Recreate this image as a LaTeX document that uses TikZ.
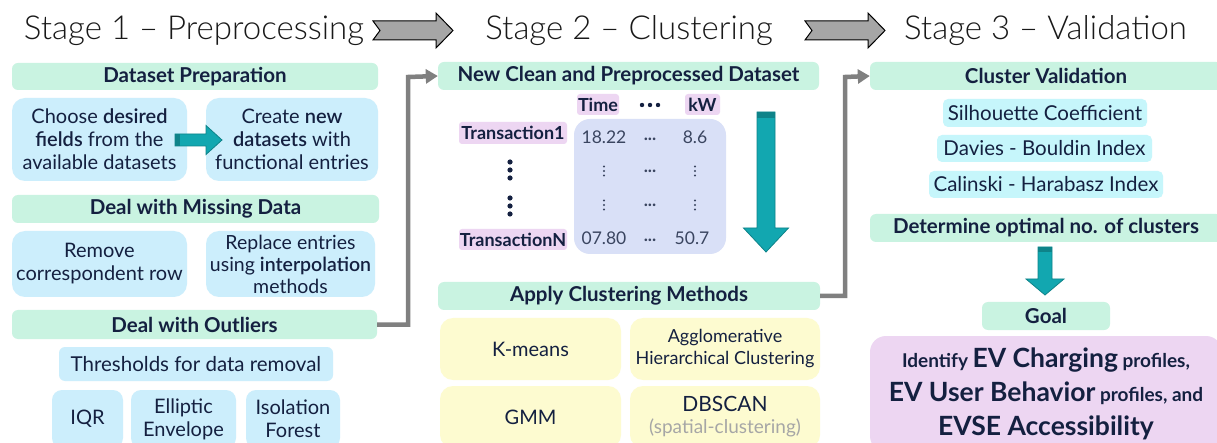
\documentclass[tikz,border=0pt]{standalone}
\usepackage{fontspec}
\setmainfont{Lato}
\newfontfamily\lightfont{Lato Light}
\newfontfamily\semifont{Lato Semibold}
\newcommand{\semi}[1]{{\semifont #1}}
\usetikzlibrary{arrows.meta}
\definecolor{hgreen}{HTML}{C9F3E1}
\definecolor{lblue}{HTML}{CCEEFC}
\definecolor{lcyan}{HTML}{C6F6FB}
\definecolor{lav}{HTML}{D9E0F7}
\definecolor{lpink}{HTML}{EDD6F2}
\definecolor{lyellow}{HTML}{FDFBD0}
\definecolor{navy}{HTML}{142040}
\definecolor{valtxt}{HTML}{3A4560}
\definecolor{teal}{HTML}{12A7B0}
\definecolor{tealdk}{HTML}{0E8389}
\definecolor{conn}{HTML}{808080}
\definecolor{stagegray}{HTML}{A6A6A6}
\tikzset{
  sz/.style 2 args={minimum width=#1, minimum height=#2},
  base/.style={rounded corners=6pt, inner sep=0pt, align=center, text=navy,
    font=\fontsize{20}{23}\selectfont},
  hdr/.style={base, fill=hgreen, font=\bfseries\fontsize{20.5}{23}\selectfont},
  bluebox/.style={base, fill=lblue, rounded corners=13pt},
  cyanbox/.style={base, fill=lcyan, rounded corners=5pt, font=\fontsize{20.5}{23}\selectfont},
  yelbox/.style={base, fill=lyellow, rounded corners=13pt},
  pinklbl/.style={base, fill=lpink, rounded corners=3pt, font=\bfseries\fontsize{18}{20}\selectfont},
  val/.style={inner sep=0pt, text=valtxt, font=\fontsize{17.5}{20}\selectfont},
  title/.style={inner sep=0pt, anchor=base, text=black!90, font=\lightfont\fontsize{33}{38}\selectfont},
  connector/.style={draw=conn, line width=4.5pt, -{Triangle[length=12pt,width=14pt]}},
  tealshape/.style={fill=teal, draw=tealdk, line width=0.8pt},
  stagearr/.pic={\draw[fill=stagegray, draw=black, line width=1pt, line join=miter]
     (0,-9.5) -- (63,-9.5) -- (63,-17.5) -- (80,0) -- (63,17.5) -- (63,9.5) -- (0,9.5) -- (7,0) -- cycle;},
  bigdown/.pic={\draw[tealshape] (-9,0) -- (9,0) -- (9,116) -- (22.5,116) -- (0,140) -- (-22.5,116) -- (-9,116) -- cycle;
     \fill[tealdk] (-9,0) rectangle (9,6);},
  smalldown/.pic={\draw[tealshape] (-7,0) -- (7,0) -- (7,32) -- (19,32) -- (0,48) -- (-19,32) -- (-7,32) -- cycle;
     \fill[tealdk] (-7,0) rectangle (7,5);},
  rightarr/.pic={\draw[tealshape] (0,-6) -- (31,-6) -- (31,-14.5) -- (47,0) -- (31,14.5) -- (31,6) -- (0,6) -- cycle;
     \fill[tealdk] (0,-6) rectangle (5,6);},
  vdotpic/.pic={\foreach \d in {-4.5,0,4.5} \fill[valtxt] (0,\d) circle (1.1);}
}
\begin{document}
\begin{tikzpicture}[x=1pt,y=-1pt]
\useasboundingbox (0,0) rectangle (1217,443);
\clip (0,0) rectangle (1217,443);
\fill[white] (0,0) rectangle (1217,443);

% titles
\node[title] (t1) at (194,40) {Stage 1 – Preprocessing};
\node[title] (t2) at (629,40) {Stage 2 – Clustering};
\node[title] (t3) at (1045.5,40) {Stage 3 – Validation};
\pic at (373,30.5) {stagearr};
\pic at (805,30.5) {stagearr};

% Stage 1
\node[hdr, sz={366}{27}] (hA) at (195,76.5) {Dataset Preparation};
\node[bluebox, sz={175}{83}] (a1) at (99.5,139.5) {Choose \semi{desired}\\\semi{fields} from the\\available datasets};
\node[bluebox, sz={172}{83}] (a2) at (292,139.5) {Create \semi{new}\\\semi{datasets} with\\functional entries};
\pic at (175,140) {rightarr};
\node[hdr, sz={367}{28}] (hB) at (195.5,209) {Deal with Missing Data};
\node[bluebox, sz={175}{66}] (b1) at (99.5,264) {Remove\\correspondent row};
\node[bluebox, sz={169}{66}, font=\fontsize{19.5}{22}\selectfont] (b2) at (290.5,264) {Replace entries\\using \semi{interpolation}\\methods};
\node[hdr, sz={365}{29}] (hC) at (194.5,324.5) {Deal with Outliers};
\node[bluebox, rounded corners=6pt, sz={274}{34}, font=\fontsize{20.5}{23}\selectfont] (thr) at (196,364) {Thresholds for data removal};
\node[bluebox, rounded corners=10pt, sz={71}{58}] (iqr) at (87.5,419) {IQR};
\node[bluebox, rounded corners=10pt, sz={105}{58}] (ell) at (183.5,419) {Elliptic\\Envelope};
\node[bluebox, rounded corners=10pt, sz={94}{58}] (iso) at (293,419) {Isolation\\Forest};

% Stage 2
\node[hdr, sz={381}{28}] (hD) at (628.5,76) {New Clean and Preprocessed Dataset};
\node[base, fill=lav, rounded corners=16pt, sz={152}{135}] (tab) at (650,186.5) {};
\node[pinklbl, sz={42}{21}] (time) at (598,104.5) {Time};
\node[pinklbl, sz={35}{21}] (kw) at (702.5,104.5) {kW};
\foreach \xx in {642,650,658} \fill[navy] (\xx,105) circle (2.2);
\node[pinklbl, sz={108}{22}] (tr1) at (513,133) {Transaction1};
\node[pinklbl, sz={108}{21}] (trn) at (513,239.5) {TransactionN};
\foreach \yy in {162,170,178,198,206,214} \fill[navy] (510,\yy) circle (2.6);
\node[val] (v11) at (604,137) {18.22};
\node[val] (v12) at (650,139) {\textbf{...}};
\node[val] (v13) at (695,137) {8.6};
\pic at (604,171) {vdotpic};
\node[val] (v22) at (650,171) {\textbf{...}};
\pic at (695,171) {vdotpic};
\pic at (604,205) {vdotpic};
\node[val] (v32) at (650,205) {\textbf{...}};
\pic at (695,205) {vdotpic};
\node[val] (v41) at (604,238) {07.80};
\node[val] (v42) at (650,240) {\textbf{...}};
\node[val] (v43) at (692,238) {50.7};
\pic at (766,112) {bigdown};
\node[hdr, sz={382}{28}] (hE) at (629,296) {Apply Clustering Methods};
\node[yelbox, sz={181}{62}] (km) at (530.5,349) {K-means};
\node[yelbox, sz={190}{62}, font=\fontsize{18}{22}\selectfont] (agg) at (725,349) {Agglomerative\\Hierarchical Clustering};
\node[yelbox, sz={181}{62}] (gmm) at (530.5,417) {GMM};
\node[yelbox, sz={190}{62}, font=\fontsize{21}{24}\selectfont] (dbs) at (725,417) {DBSCAN\\[-2pt]{\color{black!35}\fontsize{19}{22}\selectfont(spatial-clustering)}};

% Stage 3
\node[hdr, sz={352}{28}] (hF) at (1046,76) {Cluster Validation};
\node[cyanbox, sz={204}{28}] (sil) at (1045,113) {Silhouette Coefficient};
\node[cyanbox, sz={215}{27}] (dbi) at (1044.5,148.5) {Davies - Bouldin Index};
\node[cyanbox, sz={234}{27}] (chi) at (1046,184.5) {Calinski - Harabasz Index};
\node[hdr, sz={352}{28}] (hG) at (1046,228) {Determine optimal no. of clusters};
\pic at (1045,247) {smalldown};
\node[hdr, sz={128}{28}] (goal) at (1046,316) {Goal};
\node[base, fill=lpink, rounded corners=16pt, sz={352}{116}, font=\bfseries\fontsize{19}{34}\selectfont] (gbox) at (1046,394)
  {Identify {\fontsize{26.5}{34}\selectfont EV Charging} profiles,\\
   {\fontsize{26.5}{34}\selectfont EV User Behavior} profiles, and\\
   {\fontsize{26.5}{34}\selectfont EVSE Accessibility}};

% connectors
\coordinate (c1a) at (408,324.5);
\coordinate (c1b) at (408,77);
\draw[connector] (hC.east) -- (c1a) -- (c1b) -- (hD.west);
\coordinate (c2a) at (845,296);
\coordinate (c2b) at (845,77);
\draw[connector] (hE.east) -- (c2a) -- (c2b) -- (hF.west);
\end{tikzpicture}
\end{document}
